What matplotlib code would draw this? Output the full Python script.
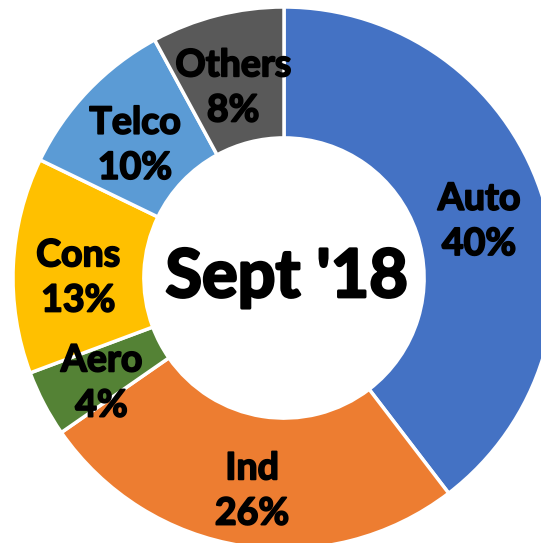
import numpy as np
import matplotlib.pyplot as plt
import matplotlib.patheffects as pe

# market share by sector, Sept 2018
sectors = ['Auto', 'Ind', 'Aero', 'Cons', 'Telco', 'Others']
shares = [40, 26, 4, 13, 10, 8]
colors = ['#4472C4', '#ED7D31', '#548235', '#FFC000', '#5B9BD5', '#595959']

plt.rcParams['font.family'] = ['Lato', 'DejaVu Sans']

fig = plt.figure(figsize=(5.41, 5.43), dpi=100)
ax = fig.add_axes([0, 0, 1, 1])

wedges, _ = ax.pie(shares, colors=colors, startangle=90, counterclock=False,
                   radius=1, wedgeprops=dict(width=0.483, edgecolor='white', linewidth=2.5))

thick = [pe.withStroke(linewidth=1.3, foreground='black')]

# labels in the middle of the ring
total = sum(shares)
start = 90
for name, val in zip(sectors, shares):
    mid = np.deg2rad(start - val / total * 360 / 2)
    start -= val / total * 360
    x = 0.76 * np.cos(mid)
    y = 0.76 * np.sin(mid) - 0.035
    ax.text(x, y, f'{name}\n{val}%', ha='center', va='center', fontsize=27,
            fontweight='bold', linespacing=1.4, path_effects=thick)

ax.text(0.01, 0.0, "Sept '18", ha='center', va='center', fontsize=48,
        fontweight='bold', path_effects=[pe.withStroke(linewidth=2, foreground='black')])

# pixel-matched view: centre at (284, 278), radius 271 px
ax.set_xlim(-284 / 271, (541 - 284) / 271)
ax.set_ylim(-(543 - 278) / 271, 278 / 271)
ax.axis('off')

fig.savefig('out.png', dpi=100)
